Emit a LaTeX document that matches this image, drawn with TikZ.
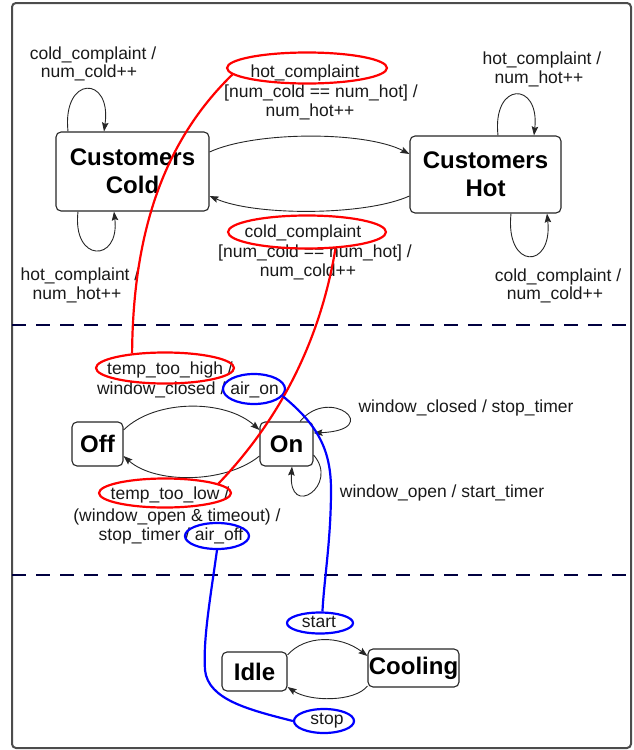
\documentclass[tikz,border=0pt]{standalone}
\usepackage{fontspec}
\setmainfont{Liberation Sans}
\usetikzlibrary{shapes.geometric,arrows.meta}
\newcommand\lblfont{\fontsize{17.5}{18.5}\selectfont}
\newcommand\statefont{\fontsize{24}{28}\selectfont\bfseries}

\begin{document}
\begin{tikzpicture}[x=1pt,y=-1pt,
  state/.style={draw=black!85, line width=1.1pt, rounded corners=5pt,
    font=\statefont, inner sep=0pt, align=center, fill=white},
  lbl/.style={font=\lblfont, inner sep=0pt, anchor=base, text=black!90},
  tr/.style={-{Stealth[length=9pt,width=6.5pt,inset=1.5pt]}, line width=0.9pt, draw=black!85},
  redring/.style={ellipse, draw=red, line width=2.2pt, inner sep=0pt},
  bluering/.style={ellipse, draw=blue, line width=2.2pt, inner sep=0pt},
  redlink/.style={draw=red, line width=2.2pt},
  bluelink/.style={draw=blue, line width=2.2pt},
  divider/.style={draw=black!75!blue, line width=1.5pt, dash pattern=on 14pt off 10pt}]

\useasboundingbox (0,0) rectangle (634,750);

% outer frame and region separators
\draw[line width=2pt, draw=black!70, rounded corners=4pt] (12,3) rectangle (631,748);
\draw[divider] (12,325) -- (631,325);
\draw[divider] (12,575) -- (631,575);

% states
\node[state, minimum width=153pt, minimum height=79pt] (ccold) at (132.5,171.5) {Customers\\Cold};
\node[state, minimum width=151pt, minimum height=77pt] (chot) at (485.5,174.5) {Customers\\Hot};
\node[state, minimum width=51pt, minimum height=44pt] (off) at (97.5,444) {Off};
\node[state, minimum width=53pt, minimum height=44pt] (on) at (286.5,444) {On};
\node[state, minimum width=65pt, minimum height=39pt] (idle) at (254.5,671.5) {Idle};
\node[state, minimum width=91pt, minimum height=38pt] (cooling) at (413.5,668) {Cooling};

% transitions of the customer region
\draw[tr] (ccold.north -| 68,0) .. controls (62,75) and (112,75) .. (ccold.north -| 104,0);
\draw[tr] (ccold.south -| 78,0) .. controls (72,263) and (120,263) .. (ccold.south -| 114,0);
\draw[tr] (chot.north -| 498,0) .. controls (492,81) and (540,81) .. (chot.north -| 534,0);
\draw[tr] (chot.south -| 511,0) .. controls (505,270) and (553,270) .. (chot.south -| 547,0);
\draw[tr] (ccold.east |- 0,152) .. controls (255,131) and (365,131) .. (chot.west |- 0,154);
\draw[tr] (chot.west |- 0,196) .. controls (365,216) and (255,216) .. (ccold.east |- 0,196);

% transitions of the thermostat region
\draw[tr] (off.east |- 0,430) .. controls (155,399) and (225,399) .. (on.west |- 0,430);
\draw[tr] (on.west |- 0,456) .. controls (225,484) and (155,484) .. (off.east |- 0,456);
\draw[tr] (on.north -| 300,0) .. controls (330,385) and (385,430) .. (on.east |- 0,433);
\draw[tr] (on.east |- 0,455) .. controls (340,485) and (288,520) .. (on.south -| 292,0);

% transitions of the cooler region
\draw[tr] (idle.east |- 0,655) .. controls (305,635) and (340,635) .. (cooling.west |- 0,656);
\draw[tr] (cooling.west |- 0,686) .. controls (355,702) and (310,702) .. (idle.east |- 0,687);

% transition labels
\node[lbl] (t1) at (93,59.5) {cold\_complaint /};
\node[lbl] (t2) at (89,77.5) {num\_cold++};
\node[lbl] (t3) at (80,280.5) {hot\_complaint /};
\node[lbl] (t4) at (77,299.5) {num\_hot++};
\node[lbl] (t5) at (305,77) {hot\_complaint};
\node[lbl] (t6) at (321,97.5) {[num\_cold == num\_hot] /};
\node[lbl] (t7) at (310,116.5) {num\_hot++};
\node[lbl] (t8) at (303,237.5) {cold\_complaint};
\node[lbl] (t9) at (315,257.5) {[num\_cold == num\_hot] /};
\node[lbl] (t10) at (308,276.5) {num\_cold++};
\node[lbl] (t11) at (542,64.5) {hot\_complaint /};
\node[lbl] (t12) at (539,83.5) {num\_hot++};
\node[lbl] (t13) at (558,281.5) {cold\_complaint /};
\node[lbl] (t14) at (555,299.5) {num\_cold++};

\node[lbl] (m1) at (170,374.5) {temp\_too\_high /};
\node[lbl] (m2) at (188,394.5) {window\_closed / air\_on};
\node[lbl] (m3) at (466,412.5) {window\_closed / stop\_timer};
\node[lbl] (m4) at (442,497.5) {window\_open / start\_timer};
\node[lbl] (m5) at (170,499.5) {temp\_too\_low /};
\node[lbl] (m6) at (177,521.5) {(window\_open \& timeout) /};
\node[lbl] (m7) at (171,540.5) {stop\_timer / air\_off};

\node[lbl] (b1) at (319,627.5) {start};
\node[lbl] (b2) at (327,724.5) {stop};

% event rings
\node[redring, minimum width=160pt, minimum height=31pt] (hotce) at (307,68) {};
\node[redring, minimum width=158pt, minimum height=33pt] (colde) at (307,232) {};
\node[redring, minimum width=138pt, minimum height=31pt] (tthe) at (165,368) {};
\node[redring, minimum width=132pt, minimum height=29pt] (ttle) at (165,493) {};
\node[bluering, minimum width=62pt, minimum height=30pt] (airon) at (254,389) {};
\node[bluering, minimum width=64pt, minimum height=26pt] (airoff) at (217,536) {};
\node[bluering, minimum width=66pt, minimum height=21pt] (starte) at (320,623) {};
\node[bluering, minimum width=60pt, minimum height=24pt] (stope) at (324,721) {};

% event links between regions
\draw[redlink] (hotce.185) .. controls (165,140) and (133,230) .. (tthe.156);
\draw[redlink] (colde.-30) .. controls (322,330) and (287,412) .. (ttle.10);
\draw[bluelink] (airon.-14) .. controls (318,425) and (331,450) .. (331,490)
  .. controls (331,540) and (324,580) .. (starte.78);
\draw[bluelink] (airoff.south) .. controls (210,600) and (203,640) .. (205,670)
  .. controls (208,700) and (250,710) .. (stope.west);

\end{tikzpicture}
\end{document}
